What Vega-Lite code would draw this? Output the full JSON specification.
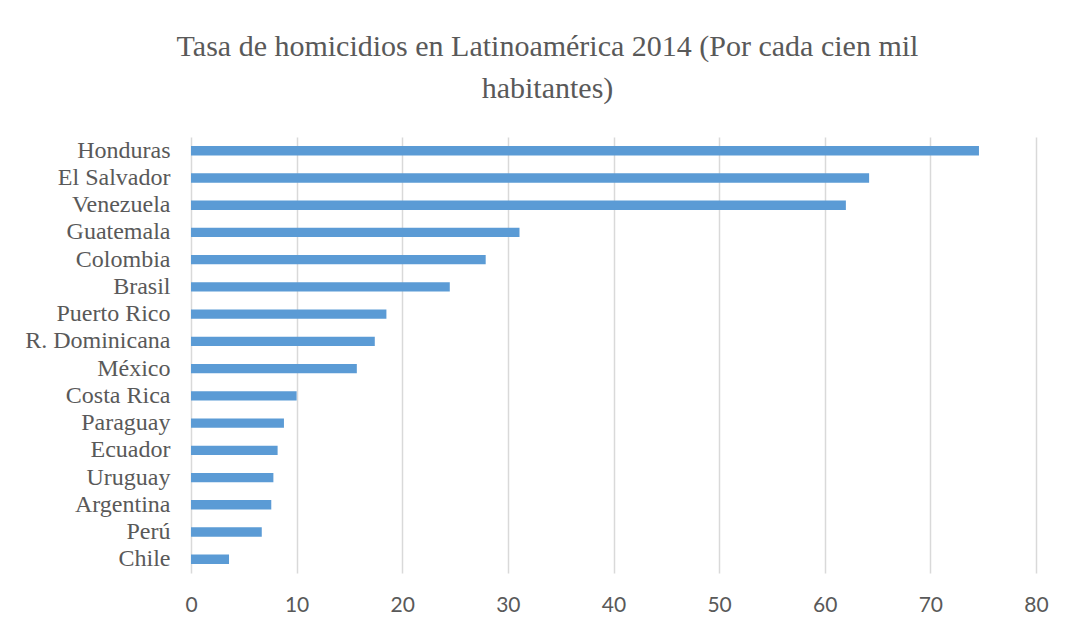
{
  "$schema": "https://vega.github.io/schema/vega-lite/v6.json",
  "autosize": "none",
  "padding": {"left": 191, "top": 137, "right": 34, "bottom": 58},
  "width": 845,
  "height": 436,
  "background": "white",
  "title": {
    "text": ["Tasa de homicidios en Latinoamérica 2014 (Por cada cien mil", "habitantes)"],
    "font": "Liberation Serif",
    "fontSize": 30,
    "fontWeight": "normal",
    "color": "#595959",
    "anchor": "middle",
    "dx": -66,
    "lineHeight": 42,
    "offset": 33
  },
  "data": {
    "values": [
      {"pais": "Honduras", "tasa": 74.6},
      {"pais": "El Salvador", "tasa": 64.2},
      {"pais": "Venezuela", "tasa": 62.0},
      {"pais": "Guatemala", "tasa": 31.1},
      {"pais": "Colombia", "tasa": 27.9},
      {"pais": "Brasil", "tasa": 24.5},
      {"pais": "Puerto Rico", "tasa": 18.5},
      {"pais": "R. Dominicana", "tasa": 17.4},
      {"pais": "México", "tasa": 15.7},
      {"pais": "Costa Rica", "tasa": 10.0},
      {"pais": "Paraguay", "tasa": 8.8},
      {"pais": "Ecuador", "tasa": 8.2},
      {"pais": "Uruguay", "tasa": 7.8},
      {"pais": "Argentina", "tasa": 7.6},
      {"pais": "Perú", "tasa": 6.7},
      {"pais": "Chile", "tasa": 3.6}
    ]
  },
  "mark": {"type": "bar", "color": "#5b9bd5"},
  "encoding": {
    "y": {
      "field": "pais",
      "type": "nominal",
      "sort": null,
      "scale": {"paddingInner": 0.658, "paddingOuter": 0.334},
      "axis": {
        "title": null,
        "domain": false,
        "ticks": false,
        "grid": false,
        "labelFont": "Liberation Serif",
        "labelFontSize": 24,
        "labelColor": "#595959",
        "labelPadding": 21,
        "labelOverlap": false,
        "labelLimit": 300
      }
    },
    "x": {
      "field": "tasa",
      "type": "quantitative",
      "scale": {"domain": [0, 80], "nice": false},
      "axis": {
        "title": null,
        "values": [0, 10, 20, 30, 40, 50, 60, 70, 80],
        "domain": false,
        "ticks": false,
        "grid": true,
        "gridColor": "#d9d9d9",
        "gridWidth": 1.5,
        "labelFont": "Lato",
        "labelFontSize": 21,
        "labelColor": "#595959",
        "labelPadding": 21,
        "labelFlush": false
      }
    }
  },
  "config": {
    "view": {"stroke": null}
  }
}
